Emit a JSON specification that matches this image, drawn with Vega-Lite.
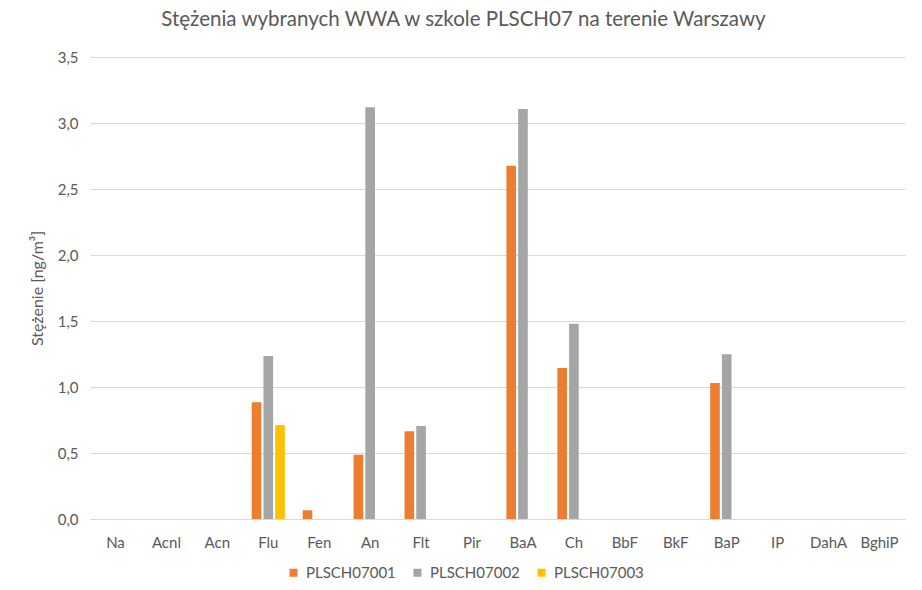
{
  "$schema": "https://vega.github.io/schema/vega-lite/v6.json",
  "autosize": "none",
  "width": 815,
  "height": 462,
  "padding": {"left": 90, "top": 57, "right": 17, "bottom": 71},
  "background": "white",
  "title": {
    "text": "Stężenia wybranych WWA w szkole PLSCH07 na terenie Warszawy",
    "font": "Lato",
    "fontSize": 20.5,
    "fontWeight": "normal",
    "color": "#595959",
    "anchor": "middle",
    "dx": -34,
    "offset": 20
  },
  "config": {
    "view": {"stroke": null},
    "font": "Lato"
  },
  "data": {
    "values": [
      {"zwiazek": "Flu", "seria": "PLSCH07001", "stezenie": 0.884},
      {"zwiazek": "Flu", "seria": "PLSCH07002", "stezenie": 1.235},
      {"zwiazek": "Flu", "seria": "PLSCH07003", "stezenie": 0.712},
      {"zwiazek": "Fen", "seria": "PLSCH07001", "stezenie": 0.066},
      {"zwiazek": "An", "seria": "PLSCH07001", "stezenie": 0.487},
      {"zwiazek": "An", "seria": "PLSCH07002", "stezenie": 3.12},
      {"zwiazek": "Flt", "seria": "PLSCH07001", "stezenie": 0.664},
      {"zwiazek": "Flt", "seria": "PLSCH07002", "stezenie": 0.705},
      {"zwiazek": "BaA", "seria": "PLSCH07001", "stezenie": 2.677},
      {"zwiazek": "BaA", "seria": "PLSCH07002", "stezenie": 3.106},
      {"zwiazek": "Ch", "seria": "PLSCH07001", "stezenie": 1.144},
      {"zwiazek": "Ch", "seria": "PLSCH07002", "stezenie": 1.48},
      {"zwiazek": "BaP", "seria": "PLSCH07001", "stezenie": 1.03},
      {"zwiazek": "BaP", "seria": "PLSCH07002", "stezenie": 1.248}
    ]
  },
  "mark": {"type": "bar"},
  "encoding": {
    "x": {
      "field": "zwiazek",
      "type": "nominal",
      "scale": {
        "domain": ["Na", "Acnl", "Acn", "Flu", "Fen", "An", "Flt", "Pir", "BaA", "Ch", "BbF", "BkF", "BaP", "IP", "DahA", "BghiP"],
        "paddingInner": 0.35,
        "paddingOuter": 0.175
      },
      "axis": {
        "title": null,
        "labelAngle": 0,
        "labelFont": "Lato",
        "labelFontSize": 15,
        "labelColor": "#595959",
        "labelPadding": 16,
        "ticks": false,
        "domainColor": "#d9d9d9",
        "domainWidth": 1
      }
    },
    "xOffset": {
      "field": "seria",
      "type": "nominal",
      "scale": {"domain": ["PLSCH07001", "PLSCH07002", "PLSCH07003"], "paddingInner": 0.18}
    },
    "y": {
      "field": "stezenie",
      "type": "quantitative",
      "scale": {"domain": [0, 3.5], "nice": false},
      "axis": {
        "title": "Stężenie [ng/m³]",
        "titleFont": "Lato",
        "titleFontSize": 16,
        "titleFontWeight": "normal",
        "titleColor": "#595959",
        "titlePadding": 12,
        "values": [0, 0.5, 1, 1.5, 2, 2.5, 3, 3.5],
        "labelExpr": "replace(format(datum.value, '.1f'), '.', ',')",
        "labelFont": "Lato",
        "labelFontSize": 15,
        "labelColor": "#595959",
        "labelPadding": 12,
        "ticks": false,
        "domain": false,
        "gridColor": "#d9d9d9",
        "gridWidth": 1
      }
    },
    "color": {
      "field": "seria",
      "type": "nominal",
      "scale": {
        "domain": ["PLSCH07001", "PLSCH07002", "PLSCH07003"],
        "range": ["#ED7D31", "#A5A5A5", "#FFC000"]
      },
      "legend": {
        "title": null,
        "orient": "none",
        "direction": "horizontal",
        "legendX": 196,
        "legendY": 508,
        "symbolType": "square",
        "symbolSize": 64,
        "symbolStrokeWidth": 0,
        "labelFont": "Lato",
        "labelFontSize": 15,
        "labelColor": "#595959",
        "columnPadding": 14,
        "labelOffset": 5
      }
    }
  }
}
